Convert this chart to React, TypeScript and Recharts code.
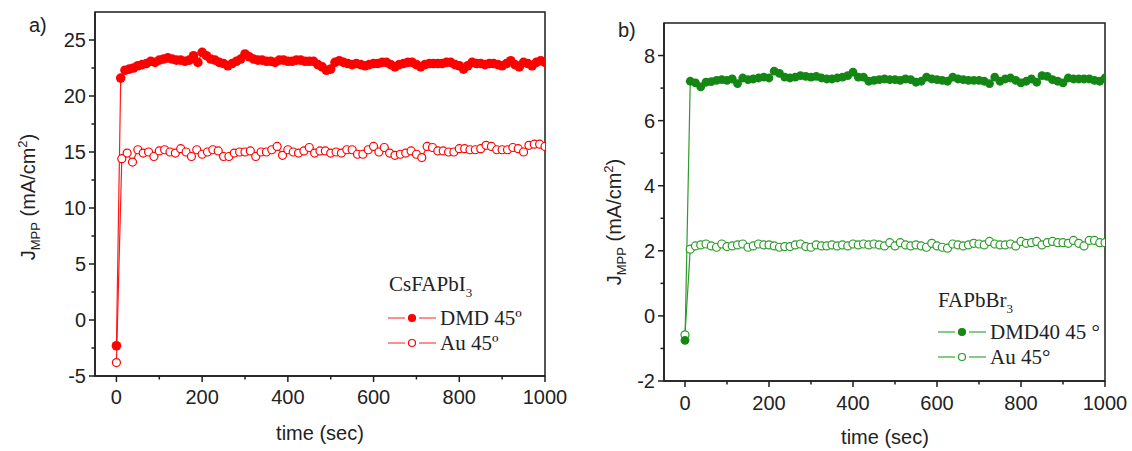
import React from 'react';
import { LineChart, Line, XAxis, YAxis, ReferenceArea } from 'recharts';

// time grids (sec)
const timeFine = [
  0, 10, 20, 30, 40, 50, 60, 70, 80, 90, 100, 110, 120, 130, 140, 150, 160, 170, 180, 190,
  200, 210, 220, 230, 240, 250, 260, 270, 280, 290, 300, 310, 320, 330, 340, 350, 360, 370, 380, 390,
  400, 410, 420, 430, 440, 450, 460, 470, 480, 490, 500, 510, 520, 530, 540, 550, 560, 570, 580, 590,
  600, 610, 620, 630, 640, 650, 660, 670, 680, 690, 700, 710, 720, 730, 740, 750, 760, 770, 780, 790,
  800, 810, 820, 830, 840, 850, 860, 870, 880, 890, 900, 910, 920, 930, 940, 950, 960, 970, 980, 990,
  1000,
];
const timeCoarse = [
  0, 12.5, 25, 37.5, 50, 62.5, 75, 87.5, 100, 112.5, 125, 137.5, 150, 162.5, 175, 187.5,
  200, 212.5, 225, 237.5, 250, 262.5, 275, 287.5, 300, 312.5, 325, 337.5, 350, 362.5, 375, 387.5,
  400, 412.5, 425, 437.5, 450, 462.5, 475, 487.5, 500, 512.5, 525, 537.5, 550, 562.5, 575, 587.5,
  600, 612.5, 625, 637.5, 650, 662.5, 675, 687.5, 700, 712.5, 725, 737.5, 750, 762.5, 775, 787.5,
  800, 812.5, 825, 837.5, 850, 862.5, 875, 887.5, 900, 912.5, 925, 937.5, 950, 962.5, 975, 987.5,
  1000,
];

// a) CsFAPbI3
const dmdA = [
  -2.3, 21.6, 22.3, 22.4, 22.5, 22.7, 22.8, 22.9, 23.1, 23.0,
  23.2, 23.3, 23.4, 23.3, 23.2, 23.2, 23.1, 23.2, 23.6, 23.0,
  23.9, 23.6, 23.3, 23.2, 23.0, 22.9, 22.7, 22.9, 23.1, 23.3,
  23.75, 23.5, 23.3, 23.2, 23.2, 23.1, 23.1, 23.0, 23.2, 23.2,
  23.1, 23.1, 23.2, 23.2, 23.1, 23.1, 23.1, 22.8, 22.6, 22.3,
  22.4, 23.0, 23.15, 23.0, 22.9, 22.8, 22.9, 22.8, 22.7, 22.8,
  22.9, 22.9, 23.0, 23.0, 22.8, 22.6, 22.8, 22.9, 23.0, 23.0,
  22.8, 22.6, 22.8, 22.9, 22.9, 22.9, 22.9, 23.0, 23.0, 22.8,
  22.7, 22.4, 22.7, 23.0, 22.9, 22.9, 22.8, 22.9, 22.9, 22.8,
  22.7, 22.9, 23.15, 22.8, 22.6, 23.0, 22.9, 22.7, 23.0, 23.15,
  23.0,
];
const auA = [
  -3.8, 14.4, 14.9, 14.1, 15.2, 14.9, 15.0, 14.6, 15.1, 15.2,
  15.0, 14.9, 15.3, 15.0, 14.6, 15.2, 14.8, 15.0, 15.2, 15.1,
  14.6, 14.6, 14.9, 15.0, 15.0, 15.1, 14.6, 15.0, 15.0, 15.2,
  15.5, 14.7, 15.2, 15.0, 14.9, 15.1, 15.4, 14.9, 15.1, 15.1,
  14.9, 15.0, 14.9, 15.2, 15.2, 14.8, 14.8, 15.2, 15.5, 15.0,
  15.4, 14.9, 14.7, 14.8, 14.9, 15.1, 14.8, 14.5, 15.5, 15.4,
  15.1, 15.1, 15.0, 15.0, 15.3, 15.3, 15.2, 15.2, 15.3, 15.6,
  15.5, 15.2, 15.2, 15.2, 15.4, 15.3, 15.0, 15.6, 15.7, 15.7,
  15.5,
];

// b) FAPbBr3
const dmdB = [
  -0.75, 7.21, 7.16, 7.04, 7.18, 7.2, 7.24, 7.26, 7.24, 7.28,
  7.14, 7.31, 7.26, 7.28, 7.31, 7.34, 7.31, 7.52, 7.45, 7.34,
  7.31, 7.34, 7.38, 7.36, 7.34, 7.36, 7.31, 7.28, 7.28, 7.31,
  7.34, 7.38, 7.49, 7.34, 7.34, 7.21, 7.24, 7.26, 7.28, 7.26,
  7.26, 7.24, 7.28, 7.26, 7.18, 7.21, 7.34, 7.28, 7.26, 7.24,
  7.21, 7.34, 7.28, 7.26, 7.24, 7.24, 7.24, 7.21, 7.14, 7.34,
  7.21, 7.28, 7.31, 7.24, 7.16, 7.21, 7.28, 7.18, 7.38, 7.36,
  7.26, 7.21, 7.16, 7.31, 7.28, 7.28, 7.28, 7.28, 7.24, 7.21,
  7.31,
];
const auB = [
  -0.58, 2.05, 2.15, 2.18, 2.21, 2.15, 2.11, 2.21, 2.13, 2.15,
  2.18, 2.21, 2.11, 2.15, 2.21, 2.18, 2.18, 2.15, 2.11, 2.13,
  2.13, 2.18, 2.21, 2.13, 2.11, 2.18, 2.15, 2.15, 2.18, 2.15,
  2.18, 2.15, 2.21, 2.18, 2.21, 2.18, 2.21, 2.18, 2.15, 2.25,
  2.15, 2.25, 2.18, 2.15, 2.18, 2.15, 2.11, 2.23, 2.15, 2.11,
  2.08, 2.21, 2.18, 2.15, 2.18, 2.23, 2.21, 2.18, 2.29, 2.21,
  2.18, 2.18, 2.21, 2.15, 2.29, 2.23, 2.25, 2.29, 2.18, 2.25,
  2.29, 2.25, 2.25, 2.23, 2.32, 2.23, 2.15, 2.32, 2.32, 2.25,
  2.25,
];

// ticks
const xTicksAll = [0, 100, 200, 300, 400, 500, 600, 700, 800, 900, 1000];
const xTicksMajor = [0, 200, 400, 600, 800, 1000];
const yTicksAllA = [-5, -2.5, 0, 2.5, 5, 7.5, 10, 12.5, 15, 17.5, 20, 22.5, 25];
const yTicksMajorA = [-5, 0, 5, 10, 15, 20, 25];
const yTicksAllB = [-2, -1, 0, 1, 2, 3, 4, 5, 6, 7, 8];
const yTicksMajorB = [-2, 0, 2, 4, 6, 8];

const SANS = 'Arial, "Liberation Sans", sans-serif';
const SERIF = '"Times New Roman", "Liberation Serif", serif';
const AXIS = '#1e1e1e';

const zip = (t: number[], v: number[]) => t.map((x, i) => ({ t: x, j: v[i] }));

const XTick = (props: any) => {
  const { x, y, payload, majors, labelDy } = props;
  const major = majors.includes(payload.value);
  return (
    <g>
      <line x1={x} x2={x} y1={y} y2={y + (major ? 6 : 3.5)} stroke={AXIS} strokeWidth={1.5} />
      {major && (
        <text x={x} y={y + labelDy} textAnchor="middle" fontFamily={SANS} fontSize={20} fill="#222">
          {payload.value}
        </text>
      )}
    </g>
  );
};

const YTick = (props: any) => {
  const { x, y, payload, majors } = props;
  const major = majors.includes(payload.value);
  return (
    <g>
      <line x1={x} x2={x - (major ? 6 : 3.5)} y1={y} y2={y} stroke={AXIS} strokeWidth={1.5} />
      {major && (
        <text x={x - 9} y={y + 7} textAnchor="end" fontFamily={SANS} fontSize={20} fill="#222">
          {payload.value}
        </text>
      )}
    </g>
  );
};

interface PanelProps {
  dmd: { t: number; j: number }[];
  au: { t: number; j: number }[];
  width: number;
  yDomain: [number, number];
  yTicksAll: number[];
  yTicksMajor: number[];
  margin: { top: number; right: number; bottom: number; left: number };
  yAxisWidth: number;
  xLabelDy: number;
  lineColor: string;
  fillColor: string;
  openColor: string;
  dmdR: number;
}

function Panel(p: PanelProps) {
  return (
    <LineChart width={p.width} height={451} margin={p.margin}>
      <XAxis
        type="number"
        dataKey="t"
        domain={[-50, 1000]}
        allowDataOverflow
        ticks={xTicksAll}
        interval={0}
        tickSize={0}
        tickMargin={0}
        tickLine={false}
        height={30}
        axisLine={{ stroke: AXIS, strokeWidth: 1.5 }}
        tick={(t: any) => <XTick {...t} majors={xTicksMajor} labelDy={p.xLabelDy} />}
      />
      <YAxis
        type="number"
        domain={p.yDomain}
        allowDataOverflow
        ticks={p.yTicksAll}
        interval={0}
        tickSize={0}
        tickMargin={0}
        tickLine={false}
        width={p.yAxisWidth}
        axisLine={{ stroke: AXIS, strokeWidth: 1.5 }}
        tick={(t: any) => <YTick {...t} majors={p.yTicksMajor} />}
      />
      <ReferenceArea
        x1={-50}
        x2={1000}
        y1={p.yDomain[0]}
        y2={p.yDomain[1]}
        fill="none"
        fillOpacity={0}
        stroke={AXIS}
        strokeWidth={1.5}
      />
      <Line
        data={p.au}
        dataKey="j"
        type="linear"
        stroke={p.lineColor}
        strokeWidth={1.2}
        dot={{ r: 4, fill: '#fff', stroke: p.openColor, strokeWidth: 1.2 }}
        activeDot={false}
        isAnimationActive={false}
      />
      <Line
        data={p.dmd}
        dataKey="j"
        type="linear"
        stroke={p.lineColor}
        strokeWidth={1.2}
        dot={{ r: p.dmdR, fill: p.fillColor, stroke: p.fillColor, strokeWidth: 0 }}
        activeDot={false}
        isAnimationActive={false}
      />
    </LineChart>
  );
}

const YLabel = ({ cx, cy }: { cx: number; cy: number }) => (
  <text
    transform={`translate(${cx + 7},${cy}) rotate(-90)`}
    textAnchor="middle"
    fontFamily={SANS}
    fontSize={20}
    fill="#222"
  >
    J
    <tspan dy={5} fontSize={13}>MPP</tspan>
    <tspan dy={-5} fontSize={20}> (mA/cm</tspan>
    <tspan dy={-8} fontSize={13}>2</tspan>
    <tspan dy={8} fontSize={20}>)</tspan>
  </text>
);

const LegendRow = (props: any) => {
  const { x, y, color, markerFill, label, fillColor } = props;
  return (
    <g>
      <line x1={x} x2={x + 17} y1={y} y2={y} stroke={color} strokeWidth={1.5} />
      <line x1={x + 31} x2={x + 48} y1={y} y2={y} stroke={color} strokeWidth={1.5} />
      <circle
        cx={x + 24}
        cy={y}
        r={3.5}
        fill={markerFill ? fillColor : '#fff'}
        stroke={fillColor}
        strokeWidth={1.2}
      />
      <text x={x + 52} y={y + 7} fontFamily={SERIF} fontSize={21} fill="#222">
        {label}
      </text>
    </g>
  );
};

export default function App() {
  const dmdDataA = zip(timeFine, dmdA);
  const auDataA = zip(timeCoarse, auA);
  const dmdDataB = zip(timeCoarse, dmdB);
  const auDataB = zip(timeCoarse, auB);

  return (
    <div style={{ position: 'absolute', left: 0, top: 0, width: 1132, height: 451, background: '#fff' }}>
      <div style={{ position: 'absolute', left: 0, top: 0 }}>
        <Panel
          dmd={dmdDataA}
          au={auDataA}
          width={580}
          yDomain={[-5, 27.5]}
          yTicksAll={yTicksAllA}
          yTicksMajor={yTicksMajorA}
          margin={{ top: 12, right: 35, bottom: 45, left: 0 }}
          yAxisWidth={95}
          xLabelDy={28}
          lineColor="#ff1a1a"
          fillColor="#ff0000"
          openColor="#ff0000"
          dmdR={4.8}
        />
      </div>
      <div style={{ position: 'absolute', left: 570, top: 0 }}>
        <Panel
          dmd={dmdDataB}
          au={auDataB}
          width={562}
          yDomain={[-2, 9]}
          yTicksAll={yTicksAllB}
          yTicksMajor={yTicksMajorB}
          margin={{ top: 23, right: 27, bottom: 40, left: 0 }}
          yAxisWidth={94}
          xLabelDy={29}
          lineColor="#2e9a2e"
          fillColor="#138613"
          openColor="#2a9a2a"
          dmdR={4.4}
        />
      </div>
      <svg
        width={1132}
        height={451}
        style={{ position: 'absolute', left: 0, top: 0, pointerEvents: 'none' }}
      >
        <text x={29} y={32} fontFamily={SANS} fontSize={20} fill="#222">a)</text>
        <text x={618} y={37} fontFamily={SANS} fontSize={20} fill="#222">b)</text>

        <YLabel cx={28} cy={197} />
        <YLabel cx={614} cy={222} />

        <text x={320} y={440} textAnchor="middle" fontFamily={SANS} fontSize={20} fill="#222">time (sec)</text>
        <text x={885} y={444} textAnchor="middle" fontFamily={SANS} fontSize={20} fill="#222">time (sec)</text>

        <text x={389} y={291} fontFamily={SERIF} fontSize={21} fill="#222">
          CsFAPbI<tspan dy={6} fontSize={13}>3</tspan>
        </text>
        <LegendRow x={388} y={318} color="#ff6a6a" fillColor="#ff0000" markerFill label="DMD 45º" />
        <LegendRow x={388} y={343} color="#ff6a6a" fillColor="#ff0000" markerFill={false} label="Au 45º" />

        <text x={938} y={307} fontFamily={SERIF} fontSize={21} fill="#222">
          FAPbBr<tspan dy={6} fontSize={13}>3</tspan>
        </text>
        <LegendRow x={938} y={332} color="#5cb85c" fillColor="#168a16" markerFill label="DMD40 45 °" />
        <LegendRow x={938} y={357} color="#5cb85c" fillColor="#2a9a2a" markerFill={false} label="Au 45°" />
      </svg>
    </div>
  );
}
